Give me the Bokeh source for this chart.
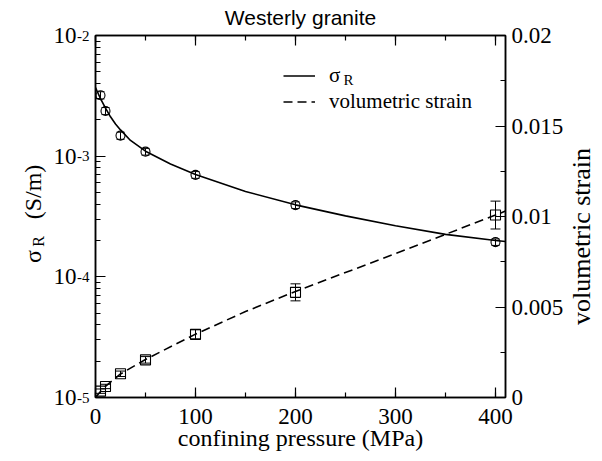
import math

from bokeh.core.properties import value
from bokeh.embed import file_html
from bokeh.layouts import row
from bokeh.resources import INLINE
from bokeh.plotting import figure
from bokeh.models import (ColumnDataSource, Range1d, LinearAxis, LinearScale,
                          FixedTicker, SingleIntervalTicker, Whisker, TeeHead,
                          Label, Legend, LegendItem)

# measured points: confining pressure (MPa)
pressure = [5, 10, 25, 50, 100, 200, 400]
# conductivity sigma_R (S/m) and its error
sigma = [3.2e-3, 2.37e-3, 1.48e-3, 1.09e-3, 7.0e-4, 3.93e-4, 1.94e-4]
sigma_err = [2.2e-4, 1.6e-4, 1.0e-4, 7.0e-5, 4.5e-5, 2.5e-5, 1.2e-5]
# volumetric strain and its error
strain = [0.35e-3, 0.61e-3, 1.31e-3, 2.08e-3, 3.49e-3, 5.81e-3, 10.08e-3]
strain_err = [0.12e-3, 0.12e-3, 0.15e-3, 0.18e-3, 0.25e-3, 0.47e-3, 0.77e-3]

# fitted sigma_R curve
fit_p = [0, 2, 5, 10, 15, 20, 25, 35, 50, 75, 100, 150, 200, 250, 300, 350, 400, 410]
fit_sigma = [3.7e-3, 3.4e-3, 3.0e-3, 2.5e-3, 2.12e-3, 1.85e-3, 1.65e-3, 1.35e-3,
             1.1e-3, 8.6e-4, 7.05e-4, 5.1e-4, 3.95e-4, 3.2e-4, 2.65e-4, 2.25e-4,
             2.0e-4, 1.96e-4]
# fitted volumetric strain curve
fit_sp = [0, 5, 10, 25, 50, 100, 150, 200, 300, 400, 410]
fit_strain = [0.0, 0.33e-3, 0.62e-3, 1.3e-3, 2.1e-3, 3.5e-3, 4.75e-3, 5.86e-3,
              7.95e-3, 10.08e-3, 10.3e-3]

decades = [-5, -4, -3, -2]
strain_ticks = [0, 0.005, 0.01, 0.015, 0.02]
strain_labels = ["0", "0.005", "0.01", "0.015", "0.02"]

SERIF = "Liberation Serif"
SANS = "Liberation Sans"

H = 461
TOP, BOTTOM = 35, 64
LEFT_W, RIGHT_W = 50, 36          # side strips holding the rotated axis titles
MAIN_L, MAIN_R = 45, 58           # borders of the main plot
LOG_LO, LOG_HI = -5, -2
frame_h = H - TOP - BOTTOM
px_per_decade = frame_h / (LOG_HI - LOG_LO)

y_main = Range1d(10.0 ** LOG_LO, 10.0 ** LOG_HI)

p = figure(width=602 - LEFT_W - RIGHT_W, height=H, output_backend="svg",
           toolbar_location=None, x_range=Range1d(0, 410), y_range=y_main,
           y_axis_type="log", min_border_left=MAIN_L, min_border_right=MAIN_R,
           min_border_top=TOP, min_border_bottom=BOTTOM,
           x_axis_location=None, y_axis_location=None)
p.extra_y_ranges = {"strain": Range1d(0, 0.02)}
p.extra_y_scales = {"strain": LinearScale()}
p.grid.visible = False
p.outline_line_color = "black"
p.outline_line_width = 1.5

p.title.text = "Westerly granite"
p.title.align = "center"
p.title.vertical_align = "top"
p.title.text_font = SANS
p.title.text_font_size = "21px"
p.title.text_font_style = "normal"
p.title.text_color = "black"
p.title.standoff = 9


def style(ax, major=10, minor=5):
    ax.axis_line_color = "black"
    ax.axis_line_width = 1.5
    ax.major_tick_in = major
    ax.major_tick_out = 0
    ax.minor_tick_in = minor
    ax.minor_tick_out = 0
    ax.major_tick_line_color = "black"
    ax.minor_tick_line_color = "black"
    ax.major_tick_line_width = 1.2
    ax.minor_tick_line_width = 1.2
    ax.major_label_text_font = SERIF
    ax.major_label_text_font_size = "23px"
    ax.major_label_text_color = "black"
    ax.axis_label_text_font = SERIF
    ax.axis_label_text_font_style = "normal"
    ax.axis_label_text_font_size = "24px"
    ax.axis_label_text_color = "black"


def bare(ax):
    ax.major_label_text_font_size = "0px"
    ax.major_label_standoff = 0
    ax.major_label_text_alpha = 0


# bottom axis
xb = LinearAxis(ticker=SingleIntervalTicker(interval=100, num_minor_ticks=2),
                axis_label="confining pressure (MPa)")
style(xb)
xb.major_label_standoff = 11
xb.axis_label_standoff = -2
p.add_layout(xb, "below")

# top axis (ticks only)
xt = LinearAxis(ticker=SingleIntervalTicker(interval=100, num_minor_ticks=2))
style(xt)
bare(xt)
p.add_layout(xt, "above")

# left log axis: ticks plus the exponents, set as small raised labels
decade_ticks = [10.0 ** e for e in decades]
minor_log = [m * 10.0 ** e for e in decades[:-1] for m in range(2, 10)]
yl = LinearAxis(ticker=FixedTicker(ticks=decade_ticks, minor_ticks=minor_log))
style(yl)
yl.major_label_overrides = {t: str(e) for t, e in zip(decade_ticks, decades)}
yl.major_label_text_font_size = "15px"
yl.major_label_text_baseline = "alphabetic"
yl.major_label_standoff = 6
p.add_layout(yl, "left")

# second left axis carrying the base "10" of each decade label
yl10 = LinearAxis(ticker=FixedTicker(ticks=decade_ticks, minor_ticks=[]))
style(yl10)
yl10.axis_line_color = None
yl10.major_tick_in = 0
yl10.minor_tick_in = 0
yl10.major_tick_line_color = None
yl10.minor_tick_line_color = None
yl10.major_label_overrides = {t: "10" for t in decade_ticks}
yl10.major_label_standoff = -2
p.add_layout(yl10, "left")

# right strain axis (its title sits in the right strip)
yr = LinearAxis(y_range_name="strain",
                ticker=FixedTicker(ticks=strain_ticks,
                                   minor_ticks=[0.0025, 0.0075, 0.0125, 0.0175]))
style(yr)
yr.major_label_overrides = dict(zip(strain_ticks, strain_labels))
yr.major_label_standoff = 6
p.add_layout(yr, "right")

# curves
fit_line = p.line(fit_p, fit_sigma, line_color="black", line_width=1.6)
dash_line = p.line(fit_sp, fit_strain, y_range_name="strain", line_color="black",
                   line_width=1.6, line_dash="9 5")

# data with error bars
src_s = ColumnDataSource(dict(
    x=pressure, y=sigma,
    lo=[s - e for s, e in zip(sigma, sigma_err)],
    hi=[s + e for s, e in zip(sigma, sigma_err)]))
src_v = ColumnDataSource(dict(
    x=pressure, y=strain,
    lo=[s - e for s, e in zip(strain, strain_err)],
    hi=[s + e for s, e in zip(strain, strain_err)]))

p.add_layout(Whisker(source=src_s, base="x", lower="lo", upper="hi",
                     line_color="black", line_width=1,
                     lower_head=TeeHead(size=8, line_width=1),
                     upper_head=TeeHead(size=8, line_width=1)))
p.add_layout(Whisker(source=src_v, base="x", lower="lo", upper="hi",
                     y_range_name="strain", line_color="black", line_width=1,
                     lower_head=TeeHead(size=10, line_width=1),
                     upper_head=TeeHead(size=10, line_width=1)))

p.scatter("x", "y", source=src_s, marker="circle", size=9, fill_color=None,
          line_color="black", line_width=1.1)
p.scatter("x", "y", source=src_v, marker="square", size=10, fill_color=None,
          line_color="black", line_width=1.1, y_range_name="strain")

# legend
legend = Legend(items=[LegendItem(label="σ", renderers=[fit_line]),
                       LegendItem(label="volumetric strain", renderers=[dash_line])],
                location=(188, 283), orientation="vertical",
                border_line_color=None, background_fill_alpha=0,
                padding=0, margin=0, spacing=1, glyph_width=32, glyph_height=21,
                label_height=21, label_standoff=14,
                label_text_font=SERIF, label_text_font_size="21px",
                label_text_color="black")
p.add_layout(legend)
p.add_layout(Label(x=248, y=4.3e-3, text="R", text_font=SERIF,
                   text_font_size="15px", text_baseline="middle",
                   text_color="black"))


def at_px(py):
    """log-axis value sitting py pixels below the top of the page"""
    return 10.0 ** (LOG_HI - (py - TOP) / px_per_decade)


def strip_fig(w):
    s = figure(width=w, height=H, output_backend="svg", toolbar_location=None,
               x_range=Range1d(0, w), y_range=y_main, y_axis_type="log",
               min_border_left=0, min_border_right=0, min_border_top=TOP,
               min_border_bottom=BOTTOM, x_axis_location=None,
               y_axis_location=None)
    s.grid.visible = False
    s.outline_line_color = None
    return s


# text reading upwards
rot = math.pi / 2

# left strip: rotated sigma_R (S/m)
left = strip_fig(LEFT_W)
left.text(x=[32, 38, 32], y=[at_px(256), at_px(241), at_px(191.5)],
          text=["σ", "R", "(S/m)"], angle=rot, text_font=value(SERIF),
          text_font_size=["24px", "16px", "24px"], text_align="center",
          text_baseline="middle", text_color="black")

# right strip: rotated "volumetric strain"
right = strip_fig(RIGHT_W)
right.text(x=[15], y=[at_px(236)], text=["volumetric strain"], angle=rot,
           text_font=value(SERIF), text_font_size="26px", text_align="center",
           text_baseline="middle", text_color="black")

layout = row(left, p, right, spacing=0)
open("out.html", "w").write(file_html(layout, INLINE))
